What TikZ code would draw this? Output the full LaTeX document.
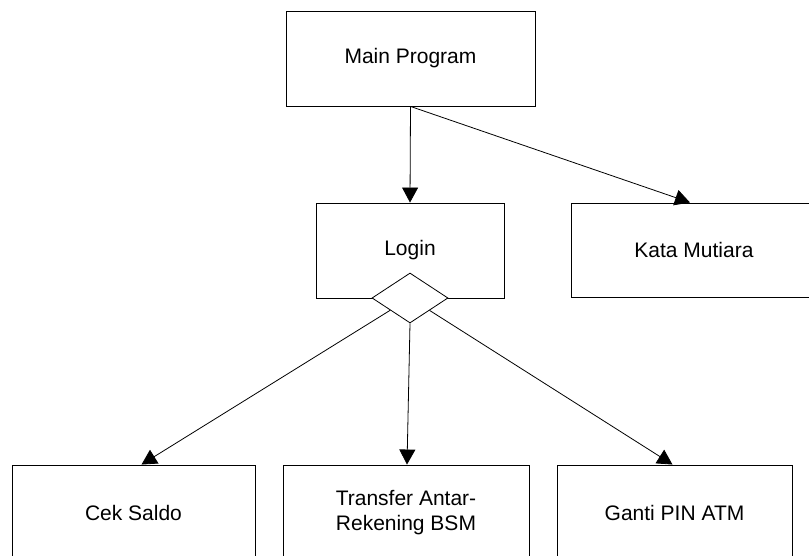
\documentclass[tikz,border=0pt]{standalone}
\usepackage{fontspec}
\setmainfont{Liberation Sans}
\usetikzlibrary{arrows.meta,shapes.geometric}

\begin{document}
\begin{tikzpicture}[x=1pt,y=1pt,
  box/.style={shape=rectangle, draw=black, line width=0.9pt, align=center,
    font=\fontsize{21}{25}\selectfont},
  link/.style={-{Triangle[length=15pt,width=16pt]}, line width=0.8pt}]
\useasboundingbox (0,0) rectangle (809,556);
\clip (0,0) rectangle (809,556);
\node[box, minimum width=249pt, minimum height=95pt](main) at (410.5,497.5) {Main Program};
\node[box, minimum width=188pt, minimum height=95pt](login) at (410,305.5) {Login};
\node[box, minimum width=246pt, minimum height=94pt](kata) at (694,306) {Kata Mutiara};
\node[shape=diamond, draw=black, fill=white, line width=0.8pt, minimum width=76pt, minimum height=50pt, inner sep=0pt](menu) at (410,258) {};
\node[box, minimum width=243pt, minimum height=96pt](cek) at (133.5,43) {Cek Saldo};
\node[box, minimum width=246pt, minimum height=96pt](transfer) at (406,43) {Transfer Antar-\\Rekening BSM};
\node[box, minimum width=235pt, minimum height=96pt](ganti) at (674.5,43) {Ganti PIN ATM};
\path[link] (main.south) edge (login.north);
\path[link] (main.south) edge ([xshift=-4pt]kata.north);
\path[link] (menu) edge ([xshift=8pt]cek.north);
\path[link] (menu.south) edge ([xshift=1pt]transfer.north);
\path[link] (menu) edge ([xshift=-2pt]ganti.north);
\end{tikzpicture}
\end{document}
